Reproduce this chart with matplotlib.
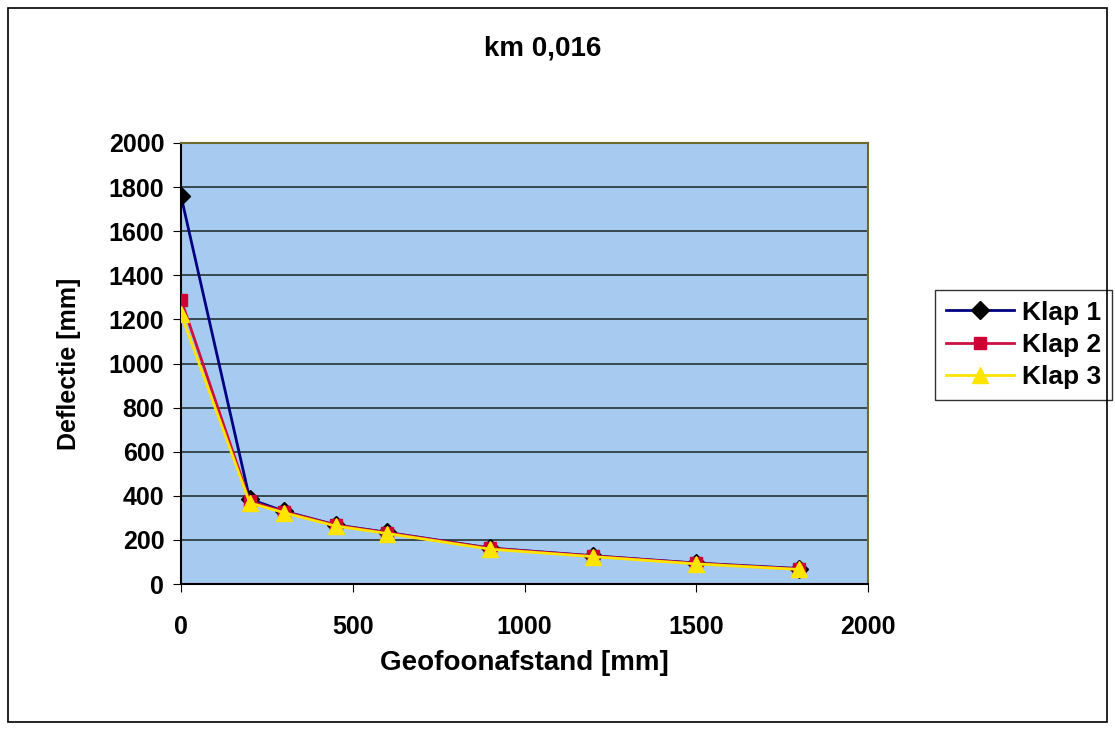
import numpy as np
import matplotlib.pyplot as plt
from matplotlib.patches import Rectangle

afstand = [0, 200, 300, 450, 600, 900, 1200, 1500, 1800]
klap1 = [1760, 385, 330, 268, 234, 163, 128, 95, 70]
klap2 = [1290, 375, 328, 267, 233, 162, 127, 94, 68]
klap3 = [1225, 368, 323, 263, 229, 158, 124, 91, 66]

plt.rcParams['font.family'] = ['Liberation Sans', 'DejaVu Sans']
plt.rcParams['font.weight'] = 'bold'

fig = plt.figure(figsize=(11.15, 7.33), dpi=100)
ax = fig.add_axes([181/1115, 1 - 584/733, (868-181)/1115, (584-143)/733])

ax.set_facecolor('#a6caf0')
for s in ax.spines.values():
    s.set_color('#6b6b2a')
    s.set_linewidth(1.5)
ax.spines['left'].set_color('black')
ax.spines['bottom'].set_color('black')

ax.grid(axis='y', color='#2f3f3f', linewidth=1.3)
ax.set_axisbelow(True)

ax.plot(afstand, klap1, color='#000080', linewidth=2, marker='D', markersize=9,
        markerfacecolor='black', markeredgecolor='black', label='Klap 1', zorder=3)
ax.plot(afstand, klap2, color='#cc1040', linewidth=2, marker='s', markersize=9,
        markerfacecolor='#cc0033', markeredgecolor='#cc0033', label='Klap 2', zorder=4)
ax.plot(afstand, klap3, color='#ffe400', linewidth=2, marker='^', markersize=11,
        markerfacecolor='#ffe400', markeredgecolor='#ffe400', label='Klap 3', zorder=5)

ax.set_xlim(0, 2000)
ax.set_ylim(0, 2000)
ax.set_xticks([0, 500, 1000, 1500, 2000])
ax.set_yticks(np.arange(0, 2001, 200))
ax.tick_params(labelsize=18, length=6, color='black')
for lab in ax.get_xticklabels() + ax.get_yticklabels():
    lab.set_fontweight('bold')
ax.tick_params(axis='y', pad=6)
ax.tick_params(axis='x', pad=16)

ax.set_xlabel('Geofoonafstand [mm]', fontsize=20, fontweight='bold', labelpad=8)
ax.set_ylabel('Deflectie [mm]', fontsize=18, fontweight='bold', labelpad=20)
fig.text(543/1115, 1 - 48/733, 'km 0,016', ha='center', va='center',
         fontsize=20, fontweight='bold')

leg = ax.legend(loc='upper left', bbox_to_anchor=(935/1115, 1 - 290/733),
                bbox_transform=fig.transFigure, fontsize=19, frameon=True,
                fancybox=False, edgecolor='black', handlelength=2.6,
                handletextpad=0.3, borderpad=0.4, labelspacing=0.32,
                borderaxespad=0)
leg.get_frame().set_linewidth(1)

fig.patches.append(Rectangle((8/1115, 1 - 722/733), 1099/1115, 714/733,
                             transform=fig.transFigure, fill=False,
                             edgecolor='black', linewidth=1.2))

fig.savefig('out.png', dpi=100, facecolor='white')
